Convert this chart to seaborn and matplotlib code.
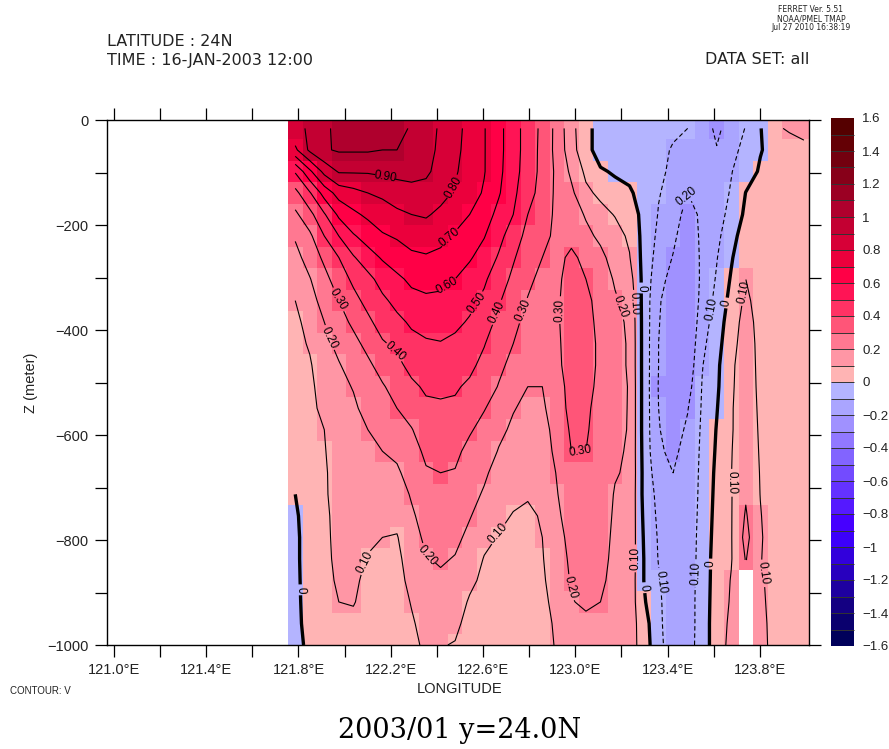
import numpy as np
import matplotlib
matplotlib.use('Agg')
import matplotlib.pyplot as plt
from matplotlib.colors import ListedColormap
import seaborn as sns

v_01 = [.88, .78, .51, .37, .28, .21, .17, .13, .10, .08, .07, .06, .05, .05, .04, .04, .03, .00, -.02, -.03, -.03, -.03, -.03, -.03, -.04]
v_02 = [.91, .92, .68, .49, .37, .28, .24, .195, .16, .13, .11, .09, .08, .08, .07, .07, .07, .07, .07, .07, .07, .06, .05, .04, .03]
v_03 = [.97, .99, .83, .64, .49, .40, .32, .27, .24, .20, .18, .16, .14, .12, .10, .095, .09, .09, .085, .085, .085, .08, .07, .06, .05]
v_04 = [1.04, 1.01, .91, .74, .62, .50, .40, .35, .30, .26, .22, .195, .175, .16, .15, .14, .135, .13, .125, .12, .115, .11, .10, .08, .06]
v_05 = [1.06, 1.01, .91, .77, .68, .59, .49, .42, .37, .32, .27, .23, .205, .185, .17, .16, .15, .14, .135, .13, .125, .115, .105, .08, .06]
v_06 = [1.07, 1.01, .91, .80, .72, .64, .56, .47, .43, .38, .33, .28, .25, .23, .20, .18, .16, .14, .125, .115, .095, .08, .07, .06, .05]
v_07 = [1.07, 1.00, .92, .82, .75, .69, .61, .54, .48, .44, .39, .34, .29, .26, .23, .20, .17, .14, .12, .10, .085, .07, .06, .05, .05]
v_08 = [1.06, 1.00, .93, .85, .78, .71, .65, .58, .53, .475, .42, .375, .34, .30, .26, .22, .185, .15, .125, .095, .08, .07, .06, .05, .05]
v_09 = [.98, .97, .93, .87, .80, .74, .68, .62, .57, .515, .47, .43, .38, .34, .295, .26, .24, .21, .185, .16, .14, .125, .105, .09, .08]
v_10 = [.96, .95, .92, .86, .81, .75, .69, .64, .58, .53, .49, .45, .415, .38, .35, .32, .29, .265, .24, .22, .195, .17, .15, .13, .115]
v_11 = [.88, .87, .86, .83, .78, .73, .675, .625, .58, .54, .495, .455, .42, .385, .36, .33, .30, .275, .25, .23, .21, .185, .16, .13, .105]
v_12 = [.83, .82, .81, .79, .74, .69, .64, .60, .555, .52, .48, .445, .41, .385, .355, .32, .295, .27, .245, .22, .195, .17, .145, .12, .095]
v_13 = [.77, .77, .76, .74, .70, .65, .61, .56, .525, .49, .45, .42, .385, .35, .31, .275, .25, .23, .205, .18, .155, .12, .09, .07, .06]
v_14 = [.705, .705, .705, .69, .65, .605, .56, .515, .48, .445, .405, .375, .345, .305, .27, .245, .215, .19, .165, .125, .095, .08, .07, .06, .05]
v_15 = [.63, .63, .625, .61, .57, .53, .49, .445, .41, .375, .345, .32, .295, .26, .22, .195, .165, .14, .12, .095, .08, .07, .06, .05, .05]
v_16 = [.54, .54, .535, .52, .50, .45, .41, .38, .35, .325, .30, .275, .24, .205, .185, .165, .14, .12, .095, .08, .07, .06, .055, .05, .05]
v_17 = [.46, .46, .455, .44, .40, .37, .345, .32, .295, .27, .25, .225, .20, .18, .16, .145, .125, .105, .09, .08, .07, .06, .06, .05, .05]
v_18 = [.375, .37, .37, .36, .345, .325, .30, .275, .26, .24, .23, .215, .20, .185, .17, .16, .14, .115, .105, .10, .095, .09, .085, .08, .08]
v_19 = [.27, .27, .28, .28, .28, .28, .28, .285, .29, .29, .285, .28, .26, .25, .23, .22, .205, .195, .18, .16, .15, .135, .12, .11, .105]
v_20 = [.13, .14, .18, .22, .25, .28, .315, .33, .335, .34, .34, .34, .335, .33, .315, .30, .285, .26, .25, .235, .22, .21, .195, .165, .14]
v_21 = [.03, .03, .08, .12, .19, .225, .28, .30, .32, .33, .34, .34, .33, .315, .31, .30, .285, .25, .24, .23, .225, .22, .215, .18, .17]
v_22 = [-.04, -.04, .01, .08, .13, .18, .225, .25, .27, .275, .28, .28, .275, .27, .26, .25, .245, .24, .235, .23, .225, .215, .20, .17, .16]
v_23 = [-.05, -.04, -.01, .03, .095, .135, .16, .19, .21, .225, .23, .23, .23, .225, .22, .215, .205, .195, .19, .185, .18, .175, .165, .16, .155]
v_24 = [-.06, -.06, -.04, .02, .05, .085, .105, .14, .17, .185, .19, .19, .195, .195, .195, .19, .19, .185, .18, .175, .17, .165, .16, .155, .15]
v_25 = [-.07, -.08, -.08, -.06, -.03, -.035, -.035, -.035, -.04, -.04, -.04, -.04, -.04, -.04, -.04, -.035, -.03, -.03, -.02, -.01, -.003, -.003, .01, .04, .05]
v_26 = [-.07, -.07, -.08, -.095, -.105, -.12, -.14, -.17, -.19, -.195, -.20, -.20, -.205, -.20, -.195, -.19, -.16, -.13, -.12, -.11, -.105, -.09, -.08, -.075, -.07]
v_27 = [-.08, -.11, -.12, -.13, -.15, -.18, -.205, -.23, -.25, -.26, -.26, -.26, -.26, -.25, -.24, -.215, -.20, -.185, -.175, -.175, -.175, -.17, -.17, -.17, -.16]
v_28 = [-.10, -.13, -.15, -.20, -.24, -.26, -.28, -.285, -.29, -.29, -.285, -.27, -.24, -.205, -.185, -.175, -.17, -.17, -.165, -.16, -.16, -.155, -.15, -.15, -.145]
v_29 = [-.15, -.16, -.17, -.175, -.18, -.18, -.18, -.18, -.17, -.15, -.125, -.105, -.095, -.09, -.085, -.08, -.075, -.07, -.065, -.06, -.055, -.05, -.05, -.05, -.05]
v_30 = [-.22, -.195, -.17, -.155, -.14, -.125, -.105, -.09, -.07, -.05, -.035, -.02, -.015, -.005, .005, .012, .02, .025, .03, .035, .04, .04, .045, .05, .05]
v_31 = [-.16, -.13, -.105, -.09, -.07, -.035, -.01, .01, .03, .05, .065, .08, .085, .09, .09, .095, .098, .095, .095, .095, .095, .105, .11, .12, .13]
v_32 = [-.095, -.07, -.04, .002, .02, .05, .08, .10, .12, .14, .15, .16, .16, .165, .17, .175, .18, .19, .21, .23, .205, np.nan, np.nan, np.nan, np.nan]
v_33 = [-.005, -.005, .01, .03, .04, .05, .05, .055, .06, .065, .07, .07, .075, .08, .085, .09, .095, .098, .105, .11, .105, .115, .12, .125, .13]
v_34 = [.08, .03, .03, .03, .03, .03, .03, .03, .03, .03, .03, .03, .03, .035, .035, .04, .04, .045, .045, .05, .055, .06, .065, .07, .07]
v_35 = [.115, .04, .03, .03, .03, .03, .03, .03, .03, .03, .03, .035, .035, .035, .04, .04, .04, .045, .045, .05, .05, .05, .05, .05, .05]
v_36 = [.13, .075, .04, .035, .03, .03, .03, .03, .03, .03, .035, .035, .04, .04, .04, .04, .045, .045, .05, .05, .05, .05, .05, .05, .05]

v_columns = [v_01, v_02, v_03, v_04, v_05, v_06, v_07, v_08, v_09, v_10, v_11, v_12,
             v_13, v_14, v_15, v_16, v_17, v_18, v_19, v_20, v_21, v_22, v_23, v_24,
             v_25, v_26, v_27, v_28, v_29, v_30, v_31, v_32, v_33, v_34, v_35, v_36]

# Grid
lon0, dlon = 121.786, 0.063
z0, dz = 16, 41

# Ferret palette, bottom to top, one colour per 0.1 band
palette = ['#00005a', '#0a006e', '#140082', '#1e00a0', '#2800be', '#3200dc', '#3c00fa', '#4600ff',
           '#5519ff', '#6432ff', '#734bff', '#8264ff', '#9178ff', '#a091ff', '#aaa5ff', '#b4b4ff',
           '#ffb4b4', '#ff96a5', '#ff7891', '#ff5578', '#ff3264', '#ff1455', '#ff0046', '#eb003c',
           '#d70037', '#c30032', '#af002d', '#9b0023', '#870019', '#73000f', '#640005', '#550000']

contour_levels = [-.2, -.1, 0, .1, .2, .3, .4, .5, .6, .7, .8, .9, 1.0]

# Where the inline contour labels sit, (longitude, depth)
label_spots = [(122.175, 110), (122.477, 130), (122.455, 223), (122.44, 310), (122.57, 347),
               (122.66, 366), (122.77, 362), (122.22, 438), (121.97, 343), (121.94, 413),
               (122.097, 844), (122.357, 829), (122.665, 787), (121.806, 895),
               (122.93, 362), (123.02, 642), (122.97, 892), (123.19, 356), (123.255, 350),
               (123.29, 320), (123.25, 835), (123.31, 890), (123.355, 880), (123.485, 147),
               (123.6, 362), (123.66, 349), (123.73, 328), (123.68, 691), (123.52, 863),
               (123.6, 846), (123.82, 863)]


def x_pos(lon):
    return (np.asarray(lon) - lon0) / dlon + 0.5


def y_pos(z):
    return (np.asarray(z) - z0) / dz + 0.5


def label_text(val):
    if abs(val) < 0.001:
        return '0'
    return f'{abs(val):.2f}'


def bar_text(val):
    if abs(val) < 0.001:
        return '0'
    if abs(abs(val) - 1) < 0.001:
        return '1' if val > 0 else '\u22121'
    return f'{val:.1f}'.replace('-', '\u2212')


plt.rcParams['font.family'] = ['Liberation Sans', 'DejaVu Sans']
plt.rcParams['text.color'] = '#222222'
plt.rcParams['xtick.labelcolor'] = '#222222'
plt.rcParams['ytick.labelcolor'] = '#222222'

data = np.array(v_columns).T

W, H = 889, 749
fig = plt.figure(figsize=(W / 100, H / 100), dpi=100)
ax = fig.add_axes([107 / W, (H - 645) / H, 702 / W, 525 / H])
cax = fig.add_axes([831 / W, (H - 646) / H, 23 / W, 528 / H])

bar_ticks = np.round(np.arange(-1.6, 1.61, 0.2), 1)
sns.heatmap(data, ax=ax, cbar_ax=cax, cmap=ListedColormap(palette), vmin=-1.6, vmax=1.6,
            xticklabels=False, yticklabels=False,
            cbar_kws={'ticks': bar_ticks, 'drawedges': True})
cbar = ax.collections[0].colorbar
cbar.dividers.set_color('#333333')
cbar.dividers.set_linewidth(0.7)
cbar.outline.set_edgecolor('black')

xx = np.arange(data.shape[1]) + 0.5
yy = np.arange(data.shape[0]) + 0.5
widths = [2.4 if lev == 0 else 0.8 for lev in contour_levels]
styles = [(0, (4, 2.5)) if lev < 0 else 'solid' for lev in contour_levels]
cs = ax.contour(xx, yy, np.ma.masked_invalid(data), levels=contour_levels, colors='black',
                linewidths=widths, linestyles=styles)
spots = [(float(x_pos(a)), float(y_pos(b))) for a, b in label_spots]
ax.clabel(cs, manual=spots, fmt=label_text, fontsize=8.5, inline=True, inline_spacing=2)

ax.set_xlim(x_pos(120.97), x_pos(124.013))
ax.set_ylim(y_pos(1000), y_pos(0))

for spine in ax.spines.values():
    spine.set_visible(True)
    spine.set_linewidth(1)
    spine.set_color('black')

major_lon = np.arange(121.0, 124.0, 0.4)
minor_lon = np.arange(121.2, 124.0, 0.4)
ax.set_xticks(x_pos(major_lon))
ax.set_xticks(x_pos(minor_lon), minor=True)
ax.set_xticklabels([f'{v:.1f}\u00b0E' for v in major_lon], fontsize=10.5)
ax.set_yticks(y_pos(np.arange(0, 1001, 200)))
ax.set_yticks(y_pos(np.arange(100, 1000, 200)), minor=True)
ax.set_yticklabels(['0'] + [f'\u2212{v}' for v in range(200, 1001, 200)], fontsize=10.5)
ax.tick_params(axis='both', which='both', length=8.6, width=0.9, direction='out',
               top=True, right=True, bottom=True, left=True, labelrotation=0)
ax.tick_params(axis='x', pad=4)
ax.tick_params(axis='y', pad=4.5)

cax.tick_params(length=0, labelsize=9.5, pad=6)
cax.set_yticklabels([bar_text(v) for v in bar_ticks])

head_font = ['DejaVu Sans']
fig.text(107 / W, 1 - 42 / H, 'LATITUDE : 24N', fontsize=11.5, va='center', family=head_font)
fig.text(107 / W, 1 - 60 / H, 'TIME : 16-JAN-2003 12:00', fontsize=11.5, va='center', family=head_font)
fig.text(809 / W, 1 - 60 / H, 'DATA SET: all', fontsize=11.5, va='center', ha='right', family=head_font)
fig.text(811 / W, 1 - 10 / H, 'FERRET Ver. 5.51', fontsize=5.5, va='center', ha='center', family=head_font)
fig.text(811 / W, 1 - 19 / H, 'NOAA/PMEL TMAP', fontsize=5.5, va='center', ha='center', family=head_font)
fig.text(811 / W, 1 - 28 / H, 'Jul 27 2010 16:38:19', fontsize=5.5, va='center', ha='center', family=head_font)
fig.text(460 / W, 1 - 689 / H, 'LONGITUDE', fontsize=10.5, va='center', ha='center')
fig.text(31 / W, 1 - 383 / H, 'Z (meter)', fontsize=10.5, va='center', ha='center', rotation=90)
fig.text(10 / W, 1 - 691 / H, 'CONTOUR: V', fontsize=7, va='center')
fig.text(460 / W, 1 - 731 / H, '2003/01 y=24.0N', fontsize=19.5, va='center', ha='center',
         family=['DejaVu Serif'], color='black')

fig.savefig('out.png', dpi=100)
